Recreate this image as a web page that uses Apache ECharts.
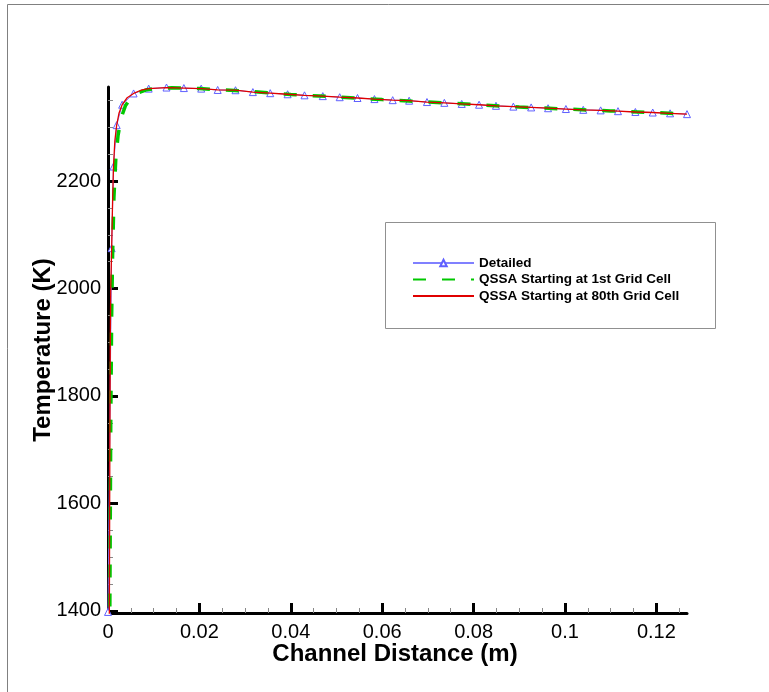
<!DOCTYPE html>
<html>
<head>
<meta charset="utf-8">
<script src="https://cdn.jsdelivr.net/npm/echarts@6/dist/echarts.min.js"></script>
<style>
html,body{margin:0;padding:0;background:#fff;}
#chart{width:769px;height:692px;}
</style>
</head>
<body>
<div id="chart"></div>
<script>
// ---- data ----
var detailedX = [0, 0.0008, 0.0012, 0.0019, 0.0031, 0.0056, 0.0089, 0.0128, 0.0166, 0.0204, 0.0240, 0.0279, 0.0317, 0.0355, 0.0393, 0.0430, 0.0470, 0.0507, 0.0546, 0.0583, 0.0623, 0.0659, 0.0698, 0.0736, 0.0774, 0.0812, 0.0849, 0.0887, 0.0926, 0.0963, 0.1002, 0.1040, 0.1078, 0.1116, 0.1154, 0.1192, 0.1230, 0.1267];
var detailedT = [1398, 2075, 2227, 2304, 2342, 2363, 2372, 2374, 2373, 2372, 2369.5, 2369, 2365.5, 2363.5, 2361.5, 2359.5, 2358, 2356, 2354.5, 2352.5, 2350.5, 2349.5, 2347, 2345.5, 2343.5, 2342, 2340, 2338.5, 2337, 2335.5, 2334, 2332.5, 2331.5, 2330, 2328.5, 2327.5, 2326, 2324.5];

var qssa1X = [0, 0.0004, 0.0006, 0.0008, 0.0010, 0.0013, 0.0017, 0.0022, 0.0029, 0.0038, 0.0050, 0.0065, 0.0085, 0.0110, 0.0140, 0.0200, 0.0300, 0.0400, 0.0500, 0.0600, 0.0700, 0.0800, 0.0900, 0.1000, 0.1100, 0.1200, 0.1267];
var qssa1T = [1300, 1400, 1750, 1950, 2060, 2170, 2240, 2285, 2318, 2340, 2355, 2364, 2370, 2373, 2373.5, 2372, 2367.5, 2361, 2356.5, 2351.6, 2347, 2342.5, 2337.8, 2334, 2330.5, 2327.2, 2324.5];

var qssa80X = [0, 0.0003, 0.0004, 0.0005, 0.0006, 0.0008, 0.0010, 0.0012, 0.0015, 0.0019, 0.0024, 0.0031, 0.0042, 0.0056, 0.0072, 0.0089, 0.0128, 0.0166, 0.0204, 0.0240, 0.0279, 0.0317, 0.0355, 0.0393, 0.0430, 0.0470, 0.0507, 0.0546, 0.0583, 0.0623, 0.0659, 0.0698, 0.0736, 0.0774, 0.0812, 0.0849, 0.0887, 0.0926, 0.0963, 0.1002, 0.1040, 0.1078, 0.1116, 0.1154, 0.1192, 0.1230, 0.1267];
var qssa80T = [1300, 1400, 1700, 1900, 2000, 2075, 2160, 2227, 2275, 2304, 2326, 2342, 2355, 2363, 2369, 2372, 2374, 2373, 2372, 2369.5, 2369, 2365.5, 2363.5, 2361.5, 2359.5, 2358, 2356, 2354.5, 2352.5, 2350.5, 2349.5, 2347, 2345.5, 2343.5, 2342, 2340, 2338.5, 2337, 2335.5, 2334, 2332.5, 2331.5, 2330, 2328.5, 2327.5, 2326, 2324.5];

var seriesNames = ['Detailed', 'QSSA Starting at 1st Grid Cell', 'QSSA Starting at 80th Grid Cell'];
var xMajorTicks = [0, 0.02, 0.04, 0.06, 0.08, 0.1, 0.12];
var xMinorTicks = [0.005, 0.01, 0.015, 0.025, 0.03, 0.035, 0.045, 0.05, 0.055, 0.065, 0.07, 0.075, 0.085, 0.09, 0.095, 0.105, 0.11, 0.115, 0.125];
var yMajorTicks = [1400, 1600, 1800, 2000, 2200];
var yMinorTicks = [1450, 1500, 1550, 1650, 1700, 1750, 1850, 1900, 1950, 2050, 2100, 2150, 2250, 2300, 2350];
var xTitle = 'Channel Distance (m)';
var yTitle = 'Temperature (K)';

function zip(xs, ys) { return xs.map(function (x, i) { return [x, ys[i]]; }); }

var X_MIN = 0, X_MAX = 0.1267, Y_MIN = 1396, Y_MAX = 2375;
var FONT = '"Liberation Sans", Arial, sans-serif';

var chart = echarts.init(document.getElementById('chart'), null, {renderer: 'canvas'});
var option = {
  animation: false,
  backgroundColor: '#ffffff',
  grid: {left: 108, right: 82, top: 87, bottom: 79, containLabel: false},
  xAxis: [{
    type: 'value', min: X_MIN, max: X_MAX, position: 'bottom',
    axisLine: {show: true, onZero: false, lineStyle: {color: '#000', width: 3}},
    axisTick: {show: true, inside: true, length: 10, customValues: xMajorTicks, lineStyle: {color: '#000', width: 3}},
    axisLabel: {show: true, customValues: xMajorTicks, margin: 9, color: '#000', fontSize: 20, fontFamily: FONT,
      formatter: function (v) { return String(+v.toFixed(4)); }},
    splitLine: {show: false}
  }, {
    type: 'value', min: X_MIN, max: X_MAX, position: 'bottom',
    axisLine: {show: false, onZero: false},
    axisTick: {show: true, inside: true, length: 5, customValues: xMinorTicks, lineStyle: {color: '#888', width: 1}},
    axisLabel: {show: false}, splitLine: {show: false}
  }],
  yAxis: [{
    type: 'value', min: Y_MIN, max: Y_MAX, position: 'left',
    axisLine: {show: true, onZero: false, lineStyle: {color: '#000', width: 3}},
    axisTick: {show: true, inside: true, length: 10, customValues: yMajorTicks, lineStyle: {color: '#000', width: 3}},
    axisLabel: {show: true, customValues: yMajorTicks, margin: 7, color: '#000', fontSize: 20, fontFamily: FONT,
      formatter: function (v) { return String(Math.round(v)); }},
    splitLine: {show: false}
  }, {
    type: 'value', min: Y_MIN, max: Y_MAX, position: 'left',
    axisLine: {show: false, onZero: false},
    axisTick: {show: true, inside: true, length: 5, customValues: yMinorTicks, lineStyle: {color: '#888', width: 1}},
    axisLabel: {show: false}, splitLine: {show: false}
  }],
  legend: {
    orient: 'vertical', left: 412, top: 256, z: 10, padding: 0,
    itemWidth: 61, itemHeight: 8, itemGap: 2.5, itemTextGap: 12,
    textStyle: {color: '#000', fontSize: 13.5, fontWeight: 'bold', fontFamily: FONT},
    data: [
      {name: seriesNames[0]},
      {name: seriesNames[1], itemStyle: {opacity: 0}},
      {name: seriesNames[2], itemStyle: {opacity: 0}}
    ]
  },
  graphic: [
    {type: 'line', shape: {x1: 7.5, y1: 4.5, x2: 769, y2: 4.5}, style: {stroke: '#808080', lineWidth: 1}, z: 0},
    {type: 'line', shape: {x1: 7.5, y1: 4.5, x2: 7.5, y2: 692}, style: {stroke: '#808080', lineWidth: 1}, z: 0},
    {type: 'rect', shape: {x: 385.5, y: 222.5, width: 330, height: 106}, style: {fill: '#fff', stroke: '#909090', lineWidth: 1}, z: 5},
    {type: 'text', x: 395, y: 654, z: 10, style: {text: xTitle, fill: '#000', font: 'bold 24px ' + FONT, textAlign: 'center', textVerticalAlign: 'middle'}},
    {type: 'text', x: 43, y: 350, rotation: Math.PI / 2, z: 10, style: {text: yTitle, fill: '#000', font: 'bold 24px ' + FONT, textAlign: 'center', textVerticalAlign: 'middle'}}
  ],
  series: [{
    name: seriesNames[0], type: 'line', xAxisIndex: 0, yAxisIndex: 0, z: 2,
    data: zip(detailedX, detailedT),
    symbol: 'triangle', symbolSize: 7, showSymbol: true,
    lineStyle: {color: '#8080ff', width: 1},
    itemStyle: {color: '#ffffff', borderColor: '#6060ff', borderWidth: 1},
    clip: true
  }, {
    name: seriesNames[1], type: 'line', xAxisIndex: 0, yAxisIndex: 0, z: 3,
    data: zip(qssa1X, qssa1T), symbol: 'none', smooth: false,
    lineStyle: {color: '#00c800', width: 3.5, type: [13, 16]},
    itemStyle: {color: '#00c800'},
    clip: true
  }, {
    name: seriesNames[2], type: 'line', xAxisIndex: 0, yAxisIndex: 0, z: 4,
    data: zip(qssa80X, qssa80T), symbol: 'none',
    lineStyle: {color: '#e00000', width: 1.3},
    itemStyle: {color: '#e00000'},
    clip: true
  }]
};
chart.setOption(option);
</script>
</body>
</html>
